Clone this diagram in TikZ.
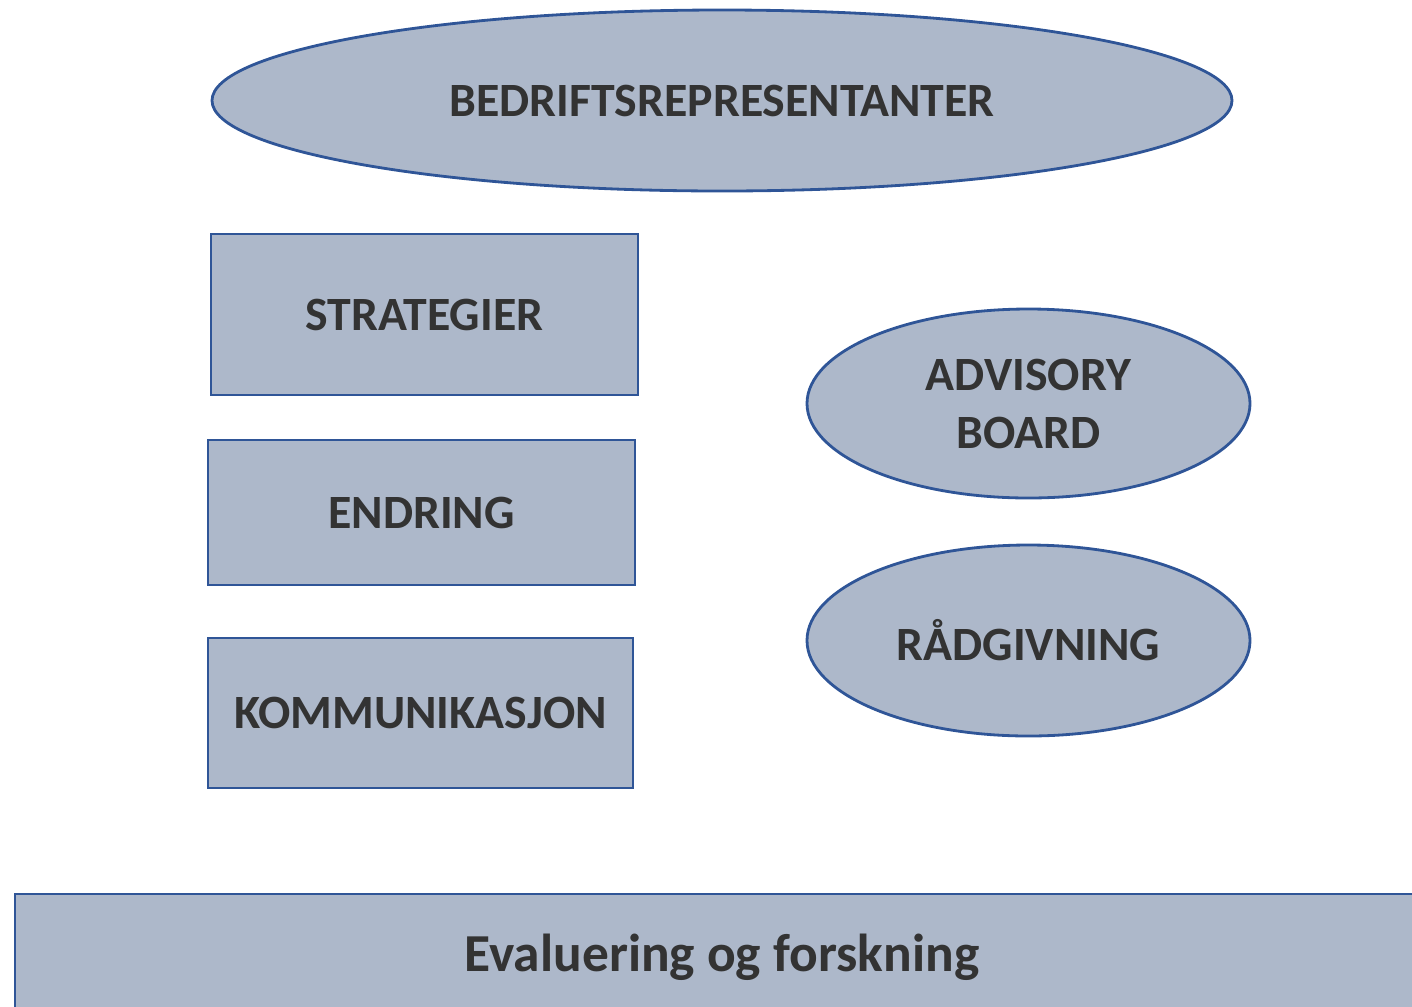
\documentclass[tikz,border=0pt]{standalone}
\usepackage{fontspec}
\setmainfont{Carlito}
\usetikzlibrary{shapes.geometric}
\definecolor{boxfill}{HTML}{ADB8CA}
\definecolor{boxline}{HTML}{2F5597}
\definecolor{labeltext}{HTML}{333333}

\begin{document}
\begin{tikzpicture}[
    part/.style={draw=boxline,fill=boxfill,line width=0.8pt,inner sep=0pt,outer sep=0pt,
      text=labeltext,font=\fontsize{13.6}{16.5}\selectfont\bfseries,align=center},
    box/.style={part,rectangle},
    oval/.style={part,ellipse}]
  \useasboundingbox (0,0) rectangle (14.12,10.06);
  \clip (0,0) rectangle (14.12,10.06);
  % top row
  \node[oval,minimum width=10.2cm,minimum height=1.81cm] (bedrift) at (7.22,9.055)
    {BEDRIFTSREPRESENTANTER};
  % left column
  \node[box,minimum width=4.27cm,minimum height=1.61cm] (strategi) at (4.245,6.915)
    {STRATEGIER};
  \node[box,minimum width=4.27cm,minimum height=1.45cm] (endring) at (4.215,4.935)
    {ENDRING};
  \node[box,minimum width=4.25cm,minimum height=1.50cm] (kommunikasjon) at (4.205,2.93)
    {KOMMUNIKASJON};
  % right column
  \node[oval,minimum width=4.43cm,minimum height=1.89cm] (advisory) at (10.285,6.025)
    {ADVISORY\\BOARD};
  \node[oval,minimum width=4.43cm,minimum height=1.91cm] (raadgivning) at (10.285,3.655)
    {RÅDGIVNING};
  % base running off the page
  \draw[boxline,fill=boxfill,line width=0.8pt] (0.15,-0.3) rectangle (14.4,1.12);
  \node[text=labeltext,font=\fontsize{15.2}{18}\selectfont\bfseries] (evaluering) at (7.22,0.49)
    {Evaluering og forskning};
\end{tikzpicture}
\end{document}
